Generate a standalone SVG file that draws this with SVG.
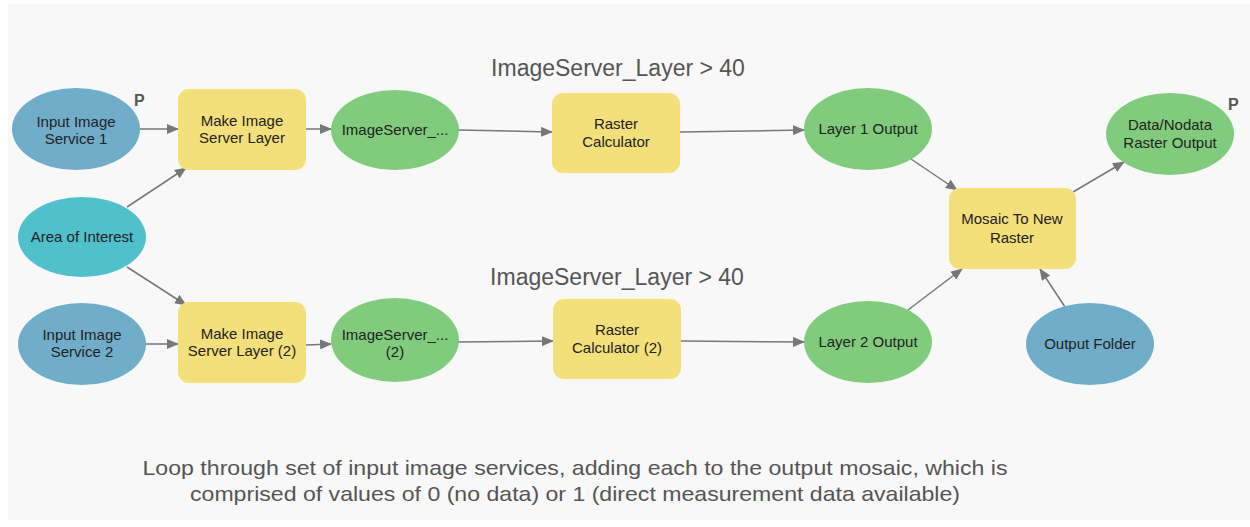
<svg xmlns="http://www.w3.org/2000/svg" width="1250" height="527" viewBox="0 0 1250 527">
<style>
  .blue { fill: #70adcb; }
  .teal { fill: #4fc0cc; }
  .green { fill: #80cc7c; }
  .yellow { fill: #f3e07a; }
  .lbl { font-family: "Liberation Sans", Arial, sans-serif; font-size: 15px; fill: #222; text-anchor: middle; }
  .p { font-family: "Liberation Sans", Arial, sans-serif; font-size: 16px; fill: #555; font-weight: bold; }
  .title { font-family: "Liberation Sans", Arial, sans-serif; font-size: 23px; fill: #555; text-anchor: middle; }
  .note { font-family: "Liberation Sans", Arial, sans-serif; font-size: 21px; fill: #555; text-anchor: middle; }
  .conn line { stroke: #777; stroke-width: 1.5; marker-end: url(#arr); }
</style>
<defs>
  <marker id="arr" markerWidth="12" markerHeight="10" refX="11" refY="5" orient="auto" markerUnits="userSpaceOnUse">
    <path d="M0,0 L12,5 L0,10 Z" fill="#777"/>
  </marker>
</defs>
<rect x="0" y="0" width="1250" height="527" fill="#ffffff"/>
<rect x="8" y="4" width="1242" height="516" fill="#f8f8f8"/>

<text class="title" x="618" y="76">ImageServer_Layer &gt; 40</text>
<text class="title" x="617" y="285">ImageServer_Layer &gt; 40</text>

<g id="connectors" class="conn">
  <line x1="140" y1="129" x2="178" y2="129"/>
  <line x1="127" y1="207" x2="186" y2="168"/>
  <line x1="127" y1="267" x2="186" y2="305"/>
  <line x1="146" y1="344" x2="178" y2="344"/>
  <line x1="306" y1="129" x2="331" y2="129"/>
  <line x1="458" y1="130" x2="552" y2="132"/>
  <line x1="680" y1="132" x2="804" y2="130"/>
  <line x1="306" y1="345" x2="331" y2="344"/>
  <line x1="458" y1="342" x2="553" y2="341"/>
  <line x1="681" y1="341" x2="804" y2="342"/>
  <line x1="911" y1="159" x2="957" y2="190"/>
  <line x1="908" y1="310" x2="962" y2="269"/>
  <line x1="1065" y1="307" x2="1040" y2="269"/>
  <line x1="1073" y1="192" x2="1124" y2="162"/>
</g>

<g id="input1">
  <ellipse class="blue" cx="76" cy="129" rx="64" ry="41"/>
  <text class="lbl" x="76" y="127">Input Image</text>
  <text class="lbl" x="76" y="144">Service 1</text>
  <text class="p" x="134" y="106">P</text>
</g>
<g id="aoi">
  <ellipse class="teal" cx="82" cy="237" rx="64" ry="40"/>
  <text class="lbl" x="82" y="242">Area of Interest</text>
</g>
<g id="input2">
  <ellipse class="blue" cx="82" cy="344" rx="64" ry="41"/>
  <text class="lbl" x="82" y="340">Input Image</text>
  <text class="lbl" x="82" y="357">Service 2</text>
</g>
<g id="make1">
  <rect class="yellow" x="178" y="89" width="128" height="81" rx="11"/>
  <text class="lbl" x="242" y="126">Make Image</text>
  <text class="lbl" x="242" y="143">Server Layer</text>
</g>
<g id="make2">
  <rect class="yellow" x="178" y="302" width="128" height="81" rx="11"/>
  <text class="lbl" x="242" y="339">Make Image</text>
  <text class="lbl" x="242" y="356">Server Layer (2)</text>
</g>
<g id="isl1">
  <ellipse class="green" cx="395" cy="130" rx="64" ry="40"/>
  <text class="lbl" x="395" y="135">ImageServer_...</text>
</g>
<g id="isl2">
  <ellipse class="green" cx="395" cy="340" rx="64" ry="42"/>
  <text class="lbl" x="395" y="340">ImageServer_...</text>
  <text class="lbl" x="395" y="357">(2)</text>
</g>
<g id="rc1">
  <rect class="yellow" x="552" y="93" width="128" height="80" rx="11"/>
  <text class="lbl" x="616" y="129">Raster</text>
  <text class="lbl" x="616" y="147">Calculator</text>
</g>
<g id="rc2">
  <rect class="yellow" x="553" y="299" width="128" height="80" rx="11"/>
  <text class="lbl" x="617" y="335">Raster</text>
  <text class="lbl" x="617" y="353">Calculator (2)</text>
</g>
<g id="l1out">
  <ellipse class="green" cx="868" cy="129" rx="64" ry="41"/>
  <text class="lbl" x="868" y="134">Layer 1 Output</text>
</g>
<g id="l2out">
  <ellipse class="green" cx="868" cy="342" rx="64" ry="41"/>
  <text class="lbl" x="868" y="347">Layer 2 Output</text>
</g>
<g id="mosaic">
  <rect class="yellow" x="949" y="188" width="127" height="81" rx="11"/>
  <text class="lbl" x="1012" y="224">Mosaic To New</text>
  <text class="lbl" x="1012" y="243">Raster</text>
</g>
<g id="outfolder">
  <ellipse class="blue" cx="1090" cy="344" rx="64" ry="41"/>
  <text class="lbl" x="1090" y="349">Output Folder</text>
</g>
<g id="dnout">
  <ellipse class="green" cx="1170" cy="134" rx="64" ry="41"/>
  <text class="lbl" x="1170" y="130">Data/Nodata</text>
  <text class="lbl" x="1170" y="148">Raster Output</text>
  <text class="p" x="1228" y="110">P</text>
</g>

<text class="note" x="575" y="475" textLength="865" lengthAdjust="spacingAndGlyphs">Loop through set of input image services, adding each to the output mosaic, which is</text>
<text class="note" x="575" y="501" textLength="770" lengthAdjust="spacingAndGlyphs">comprised of values of 0 (no data) or 1 (direct measurement data available)</text>
</svg>
